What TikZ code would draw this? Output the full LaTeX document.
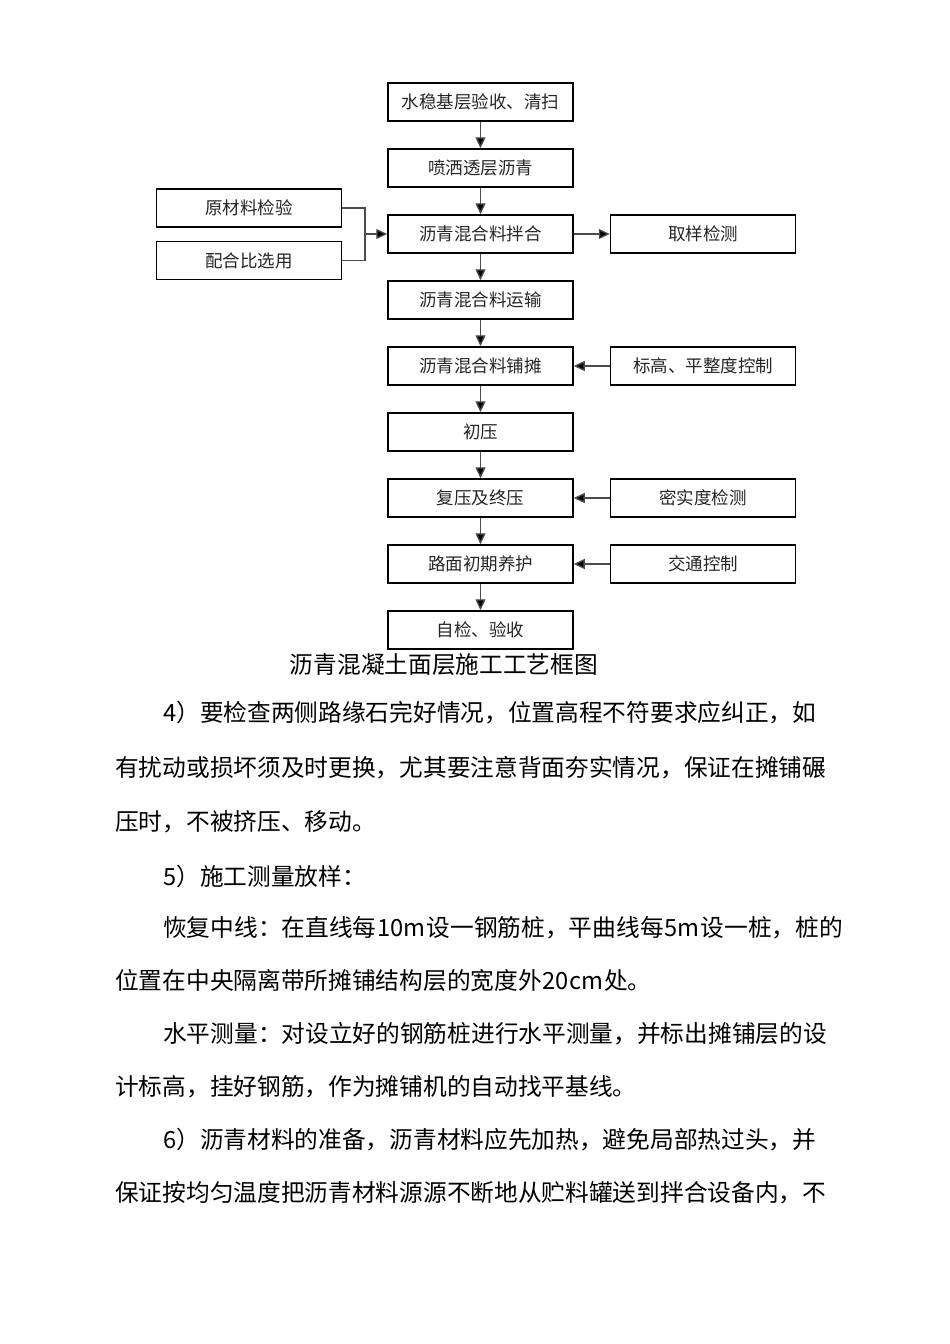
\documentclass[tikz,border=0pt]{standalone}
\usepackage{fontspec}
\newfontfamily\cjk{Noto Sans CJK SC}
\usetikzlibrary{arrows.meta}
\begin{document}
\begin{tikzpicture}[x=1pt,y=-1pt,
  box/.style={draw=black,line width=1.5pt,minimum width=185pt,minimum height=38pt,inner sep=0pt,
    font=\cjk\fontsize{17.5}{17.5}\selectfont,text=black!85},
  conn/.style={draw=black!70,line width=1.3pt},
  arr/.style={conn,-{Triangle[length=11pt,width=10pt,fill=black]}},
  body/.style={anchor=west,inner sep=0pt,font=\cjk\fontsize{23.7}{24}\selectfont,text=black}]
\useasboundingbox[fill=white] (0,0) rectangle (950,1344);
% main column
\node[box] (m1) at (480.5,102) {水稳基层验收、清扫};
\node[box] (m2) at (480.5,168) {喷洒透层沥青};
\node[box] (m3) at (480.5,234) {沥青混合料拌合};
\node[box] (m4) at (480.5,300) {沥青混合料运输};
\node[box] (m5) at (480.5,366) {沥青混合料铺摊};
\node[box] (m6) at (480.5,432) {初压};
\node[box] (m7) at (480.5,498) {复压及终压};
\node[box] (m8) at (480.5,564) {路面初期养护};
\node[box] (m9) at (480.5,630) {自检、验收};
% left
\node[box] (l1) at (249,208) {原材料检验};
\node[box] (l2) at (249,260.5) {配合比选用};
% right
\node[box] (r1) at (703,234) {取样检测};
\node[box] (r2) at (703,366) {标高、平整度控制};
\node[box] (r3) at (703,498) {密实度检测};
\node[box] (r4) at (703,564) {交通控制};
% vertical arrows
\foreach \a/\b in {m1/m2,m2/m3,m3/m4,m4/m5,m5/m6,m6/m7,m7/m8,m8/m9}
  \draw[arr] (\a.south) -- (\b.north);
% left merge
\coordinate (j) at (365,234);
\draw[conn] (l1.east) -| (j);
\draw[conn] (l2.east) -| (j);
\draw[arr] (j) -- (m3.west);
% right
\draw[arr] (m3.east) -- (r1.west);
\draw[arr] (r2.west) -- (m5.east);
\draw[arr] (r3.west) -- (m7.east);
\draw[arr] (r4.west) -- (m8.east);
% caption
\node[inner sep=0pt,font=\cjk\fontsize{23.7}{24}\selectfont] (cap) at (444,665) {沥青混凝土面层施工工艺框图};
% body text
\node[body] (t1) at (163,713) {4）要检查两侧路缘石完好情况，位置高程不符要求应纠正，如};
\node[body] (t2) at (115,768) {有扰动或损坏须及时更换，尤其要注意背面夯实情况，保证在摊铺碾};
\node[body] (t3) at (115,822) {压时，不被挤压、移动。};
\node[body] (t4) at (163,876) {5）施工测量放样：};
\node[body] (t5) at (163,928) {恢复中线：在直线每\hspace{1pt}10m\hspace{1pt}设一钢筋桩，平曲线每\hspace{1pt}5m\hspace{1pt}设一桩，桩的};
\node[body] (t6) at (115,981) {位置在中央隔离带所摊铺结构层的宽度外\hspace{1pt}20cm\hspace{1pt}处。};
\node[body] (t7) at (163,1034) {水平测量：对设立好的钢筋桩进行水平测量，并标出摊铺层的设};
\node[body] (t8) at (115,1087) {计标高，挂好钢筋，作为摊铺机的自动找平基线。};
\node[body] (t9) at (163,1140) {6）沥青材料的准备，沥青材料应先加热，避免局部热过头，并};
\node[body] (t10) at (115,1193) {保证按均匀温度把沥青材料源源不断地从贮料罐送到拌合设备内，不};
\end{tikzpicture}
\end{document}
